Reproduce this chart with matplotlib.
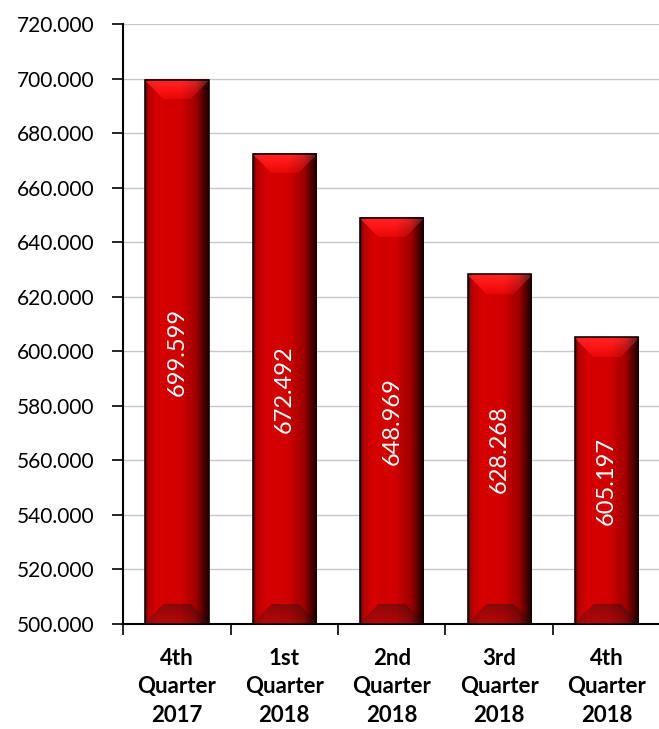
import matplotlib.pyplot as plt
import numpy as np

quarters = ['4th\nQuarter\n2017', '1st\nQuarter\n2018', '2nd\nQuarter\n2018',
            '3rd\nQuarter\n2018', '4th\nQuarter\n2018']
values = [699.599, 672.492, 648.969, 628.268, 605.197]
labels = ['699.599', '672.492', '648.969', '628.268', '605.197']

plt.rcParams['font.family'] = ['Lato', 'DejaVu Sans']

fig = plt.figure(figsize=(6.59, 7.29), dpi=100)
ax = fig.add_axes([0.187, 0.144, 0.815, 0.823])

ymin, ymax = 500, 720
bw = 0.59
x = np.arange(len(values))


def bar_image(h_px, w_px=64):
    # horizontal shading: dark edges, bright left-centre, black right edge
    u = np.linspace(0, 1, w_px)
    prof = np.interp(u, [0, 0.04, 0.2, 0.55, 0.8, 0.92, 1.0],
                     [0.35, 0.72, 0.84, 0.82, 0.62, 0.3, 0.1])
    r = np.tile(prof, (h_px, 1))
    g = np.zeros_like(r)
    b = np.zeros_like(r)
    img = np.dstack([r, g, b])
    bev = 20
    for j in range(min(bev, h_px // 2)):
        t = j / bev
        lo = int(t * 0.3 * w_px)
        hi = w_px - lo
        # top bevel (row 0 is top)
        img[j, lo:hi, 0] = np.minimum(img[j, lo:hi, 0] + 0.15 * (1 - t) + 0.08, 1.0)
        img[j, lo:hi, 1] = 0.02 + 0.12 * (1 - t)
        img[j, lo:hi, 2] = 0.02 + 0.12 * (1 - t)
        # bottom bevel
        k = h_px - 1 - j
        img[k, lo:hi, 0] = img[k, lo:hi, 0] * (0.65 + 0.2 * (1 - t))
        img[k, lo:hi, 1] = 0.03
        img[k, lo:hi, 2] = 0.03
    return np.clip(img, 0, 1)


px_per_unit = (0.823 * 729) / (ymax - ymin)
for xi, v, lab in zip(x, values, labels):
    h_px = max(int((v - ymin) * px_per_unit), 1)
    ax.imshow(bar_image(h_px), extent=(xi - bw / 2, xi + bw / 2, ymin, v),
              aspect='auto', zorder=3, interpolation='bilinear')
    ax.add_patch(plt.Rectangle((xi - bw / 2, ymin), bw, v - ymin, fill=False,
                               edgecolor='#1a0000', linewidth=1.2, zorder=4))
    ax.text(xi, (ymin + v) / 2, lab, rotation=90, ha='center', va='center',
            color='white', fontsize=17, zorder=5)

ax.set_xlim(-0.5, len(values) - 0.5)
ax.set_ylim(ymin, ymax)
ax.set_yticks(np.arange(500, 721, 20))
ax.set_yticklabels([f'{t:.3f}' for t in np.arange(500, 721, 20)], fontsize=15)
ax.yaxis.grid(True, color='#c8c8c8', linewidth=1)
ax.set_axisbelow(True)

ax.set_xticks(x)
ax.set_xticklabels(quarters, fontsize=16, fontweight='bold', linespacing=1.45)
ax.tick_params(axis='x', length=0, pad=17)
ax.set_xticks(np.arange(-0.5, len(values), 1), minor=True)
ax.tick_params(axis='x', which='minor', length=8, width=1.2, direction='out')
ax.tick_params(axis='y', length=8, width=1.2, direction='out', pad=13)

for s in ['top', 'right']:
    ax.spines[s].set_visible(False)
for s in ['left', 'bottom']:
    ax.spines[s].set_linewidth(1.5)

fig.savefig('out.png', dpi=100)
